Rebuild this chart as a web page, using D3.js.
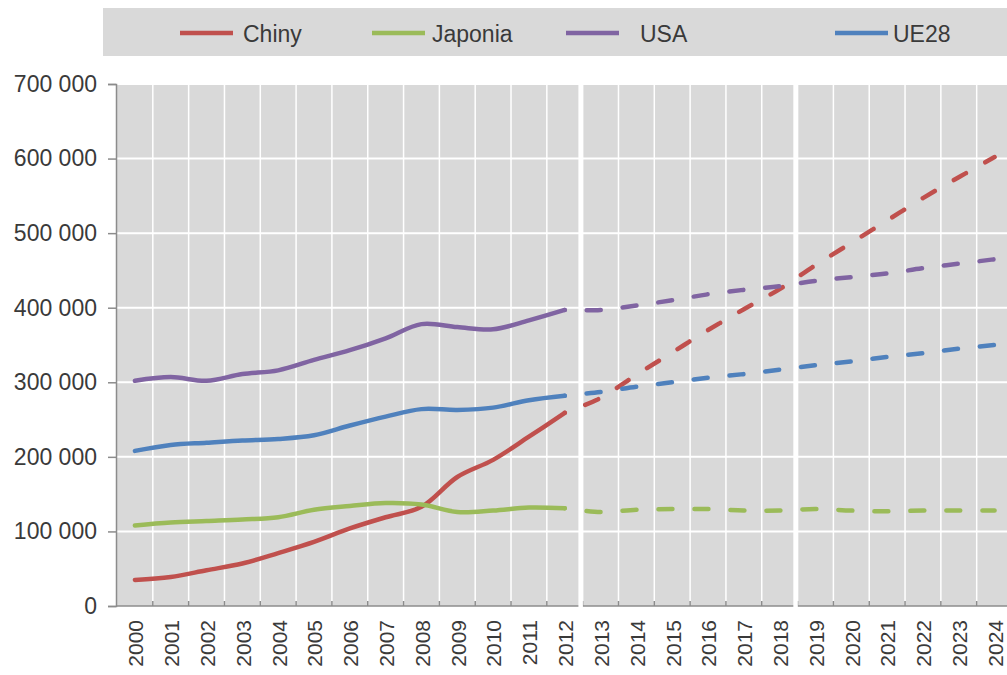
<!DOCTYPE html>
<html>
<head>
<meta charset="utf-8">
<script src="https://cdn.jsdelivr.net/npm/d3@7"></script>
<style>
  html, body { margin: 0; padding: 0; background: #fff; }
  svg { display: block; font-family: "Liberation Sans", Arial, sans-serif; }
</style>
</head>
<body>
<svg id="chart" width="1007" height="675"></svg>
<script>
// Years on the x axis
const years = ['2000','2001','2002','2003','2004','2005','2006','2007','2008','2009','2010','2011','2012',
               '2013','2014','2015','2016','2017','2018','2019','2020','2021','2022','2023','2024'];
const lastActual = '2012';          // solid up to here, dashed after
const breakYears = ['2013', '2019']; // white separators before these years

const china = [35000, 39000, 48000, 57000, 71000, 86000, 104000, 119000, 133000, 173000, 196000, 227000, 259000,
               279000, 310000, 340000, 370000, 398000, 425000, 457000, 487000, 517000, 547000, 575000, 602000];
const japan = [108000, 112000, 114000, 116000, 119000, 129000, 134000, 138000, 136000, 126000, 128000, 132000, 131000,
               126000, 129000, 130000, 130000, 128000, 128000, 130000, 128000, 127000, 128000, 128000, 128000];
const usa   = [302000, 307000, 302000, 311000, 316000, 330000, 343000, 359000, 378000, 374000, 371000, 383000, 397000,
               397000, 403000, 410000, 418000, 424000, 429000, 436000, 441000, 446000, 453000, 459000, 465000];
const ue28  = [208000, 216000, 219000, 222000, 224000, 229000, 242000, 254000, 264000, 263000, 266000, 276000, 282000,
               287000, 294000, 300000, 306000, 311000, 317000, 323000, 328000, 334000, 339000, 345000, 350000];

const seriesNames = ['Chiny', 'Japonia', 'USA', 'UE28'];
const seriesValues = [china, japan, usa, ue28];
const yTicks = [0, 100000, 200000, 300000, 400000, 500000, 600000, 700000];

const COLORS = ['#c0504d', '#9bbb59', '#8064a2', '#4f81bd'];
const BG = '#d9d9d9';
const TEXT = '#3a3a3a';
const AXIS = '#8c8c8c';

const svg = d3.select('#chart');
const plot = { left: 117, right: 1012.5, top: 84, bottom: 606 };

const x = d3.scaleBand().domain(years).range([plot.left, plot.right]).padding(0);
const y = d3.scaleLinear().domain([0, 700000]).range([plot.bottom, plot.top]);
const cx = yr => x(yr) + x.bandwidth() / 2;

const fmt = d3.formatLocale({ decimal: ',', thousands: '\u00a0', grouping: [3], currency: ['', ''] }).format(',d');

// Legend band
svg.append('rect')
  .attr('x', 103).attr('y', 8).attr('width', 1007 - 103).attr('height', 48)
  .attr('fill', BG);

const legendLineX = [180, 372, 566, 835];
const legendTextX = [243, 432, 640, 893];
seriesNames.forEach((name, i) => {
  svg.append('line')
    .attr('x1', legendLineX[i]).attr('x2', legendLineX[i] + 53)
    .attr('y1', 33).attr('y2', 33)
    .attr('stroke', COLORS[i]).attr('stroke-width', 4.5);
  svg.append('text')
    .attr('x', legendTextX[i]).attr('y', 34).attr('dy', '0.35em')
    .attr('fill', TEXT).style('font-size', '23px')
    .text(name);
});

// Plot background
svg.append('rect')
  .attr('x', plot.left).attr('y', plot.top)
  .attr('width', 1007 - plot.left).attr('height', plot.bottom - plot.top)
  .attr('fill', BG);

// Horizontal gridlines
svg.append('g').selectAll('line')
  .data(yTicks.filter(d => d > 0))
  .join('line')
  .attr('x1', plot.left).attr('x2', 1007)
  .attr('y1', d => y(d)).attr('y2', d => y(d))
  .attr('stroke', '#fff').attr('stroke-width', 2);

// Vertical gridlines at category boundaries
svg.append('g').selectAll('line')
  .data(years.slice(1))
  .join('line')
  .attr('x1', d => x(d)).attr('x2', d => x(d))
  .attr('y1', plot.top).attr('y2', plot.bottom)
  .attr('stroke', '#fff').attr('stroke-width', 1.5);

// Y axis
const yAxis = svg.append('g')
  .attr('transform', `translate(${plot.left - 1},0)`)
  .call(d3.axisLeft(y).tickValues(yTicks).tickSize(8).tickPadding(11).tickFormat(fmt));
yAxis.select('.domain').attr('stroke', AXIS).attr('stroke-width', 1.5);
yAxis.selectAll('.tick line').attr('stroke', AXIS).attr('stroke-width', 1.5);
yAxis.selectAll('.tick text')
  .attr('fill', TEXT).style('font-size', '23px').style('font-family', '"Liberation Sans", Arial, sans-serif');

// X axis line and inner ticks at boundaries
svg.append('line')
  .attr('x1', plot.left - 1).attr('x2', 1007)
  .attr('y1', plot.bottom).attr('y2', plot.bottom)
  .attr('stroke', AXIS).attr('stroke-width', 1.5);
svg.append('g').selectAll('line')
  .data(years.slice(1))
  .join('line')
  .attr('x1', d => x(d)).attr('x2', d => x(d))
  .attr('y1', plot.bottom).attr('y2', plot.bottom - 5)
  .attr('stroke', AXIS).attr('stroke-width', 1.5);

// X labels (rotated)
svg.append('g').selectAll('text')
  .data(years)
  .join('text')
  .attr('transform', d => `translate(${cx(d) + 1}, 620) rotate(-90)`)
  .attr('text-anchor', 'end')
  .attr('dy', '0.35em')
  .attr('fill', TEXT).style('font-size', '21px')
  .text(d => d);

// Lines
const line = d3.line()
  .x(d => cx(d.year))
  .y(d => y(d.value))
  .curve(d3.curveCatmullRom.alpha(0.5));

const split = years.indexOf(lastActual);
const lineG = svg.append('g');
seriesValues.forEach((vals, i) => {
  const pts = vals.map((v, j) => ({ year: years[j], value: v }));
  lineG.append('path')
    .attr('d', line(pts.slice(0, split + 1)))
    .attr('fill', 'none').attr('stroke', COLORS[i])
    .attr('stroke-width', 4.5).attr('stroke-linecap', 'round');
  lineG.append('path')
    .attr('d', line(pts.slice(split)))
    .attr('fill', 'none').attr('stroke', COLORS[i])
    .attr('stroke-width', 4.5).attr('stroke-linecap', 'round')
    .attr('stroke-dasharray', '0 22 14 0');
});

// White separators between periods
svg.append('g').selectAll('line')
  .data(breakYears)
  .join('line')
  .attr('x1', d => x(d) - 2).attr('x2', d => x(d) - 2)
  .attr('y1', plot.top).attr('y2', plot.bottom + 3)
  .attr('stroke', '#fff').attr('stroke-width', 4.5);
</script>
</body>
</html>
